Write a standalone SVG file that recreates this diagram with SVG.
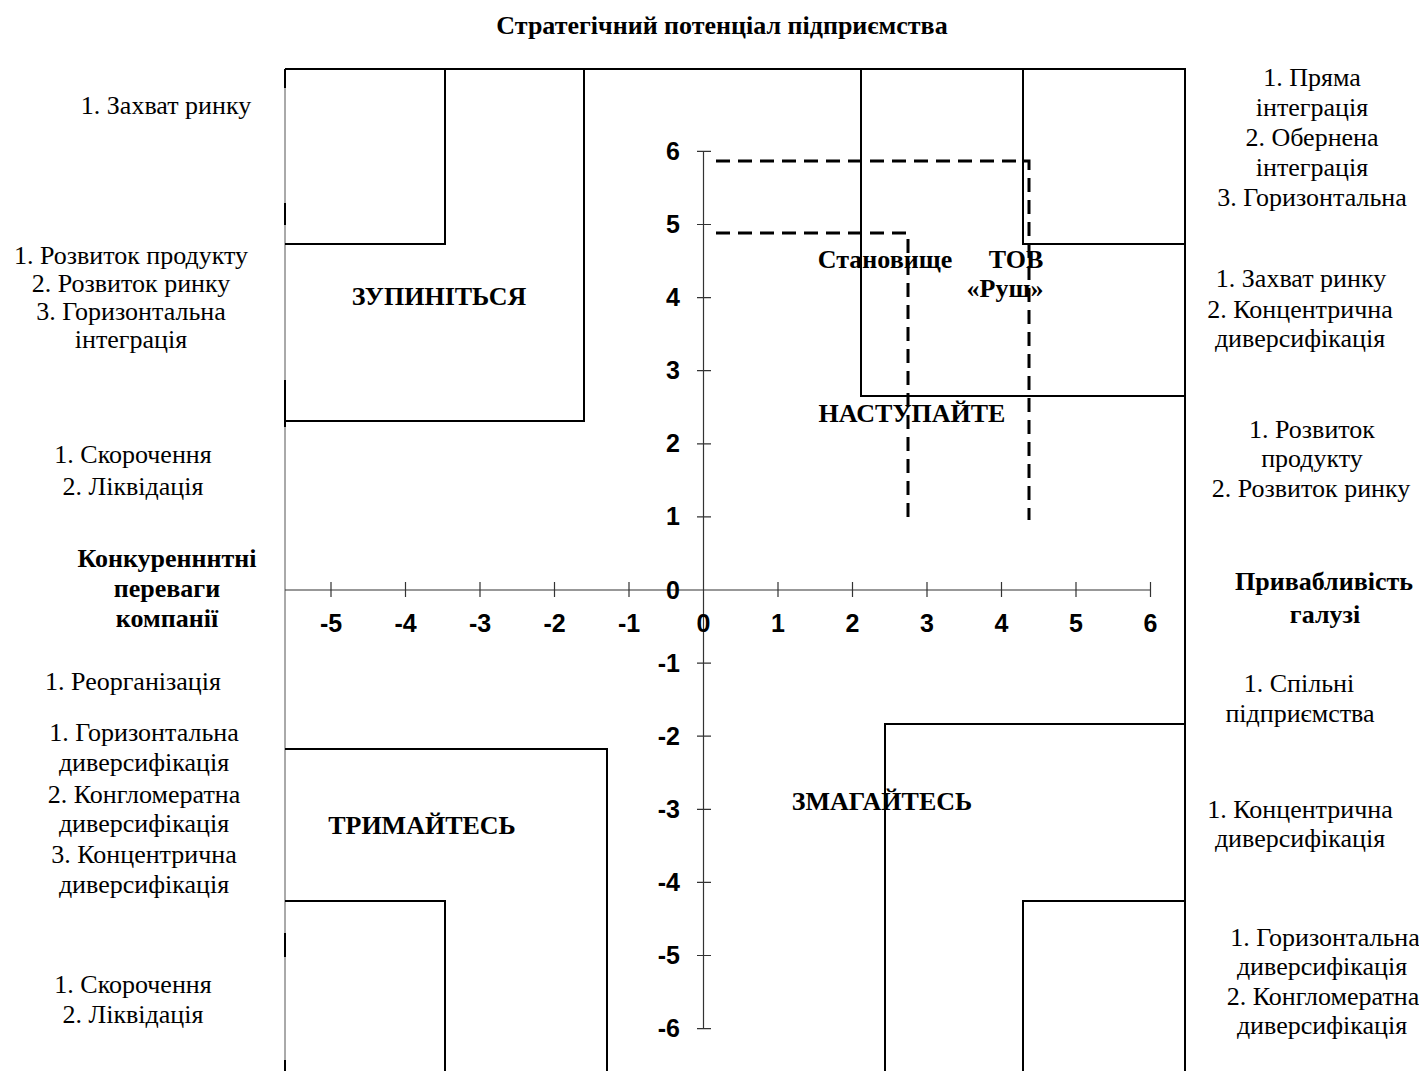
<svg xmlns="http://www.w3.org/2000/svg" width="1419" height="1071" viewBox="0 0 1419 1071">
<style>
.t{font-family:"Liberation Serif","Times New Roman",serif;font-size:26px;fill:#000;text-anchor:middle}
.b{font-weight:bold}
.ax{font-family:"Liberation Sans",Arial,sans-serif;font-size:25px;font-weight:bold;fill:#000}
.xl{text-anchor:middle}
.yl{text-anchor:end}
.ln{fill:none;stroke:#000;stroke-width:2}
.axis{fill:none;stroke:#333;stroke-width:1.2}
.dash{fill:none;stroke:#000;stroke-width:3;stroke-dasharray:14 8}
</style>
<rect width="1419" height="1071" fill="#fff"/>
<g id="title"><text class="t b" x="722" y="34">Стратегічний потенціал підприємства</text></g>
<g id="frame">
<path class="ln" d="M285,69 H1185 V1071"/>
<path d="M285,69 V1071" fill="none" stroke="#555" stroke-width="1"/>
<path d="M285,69 V88 M285,203 V225 M285,380 V427 M285,933 V957 M285,1060 V1071" fill="none" stroke="#000" stroke-width="2"/>
</g>
<g id="axes">
<path class="axis" d="M285,590 H1150.5 M703.5,151.4 V1028.6"/>
<path class="axis" d="M331,582 V597 M405.5,582 V597 M480,582 V597 M554.5,582 V597 M629,582 V597 M778,582 V597 M852.5,582 V597 M927,582 V597 M1001.5,582 V597 M1076,582 V597 M1150.5,582 V597"/>
<path class="axis" d="M697,151.4 H711 M697,224.5 H711 M697,297.6 H711 M697,370.7 H711 M697,443.8 H711 M697,516.9 H711 M697,663.1 H711 M697,736.2 H711 M697,809.3 H711 M697,882.4 H711 M697,955.5 H711 M697,1028.6 H711"/>
<g class="ax xl">
<text x="331" y="632">-5</text><text x="405.5" y="632">-4</text><text x="480" y="632">-3</text><text x="554.5" y="632">-2</text><text x="629" y="632">-1</text><text x="703.5" y="632">0</text><text x="778" y="632">1</text><text x="852.5" y="632">2</text><text x="927" y="632">3</text><text x="1001.5" y="632">4</text><text x="1076" y="632">5</text><text x="1150.5" y="632">6</text>
</g>
<g class="ax yl">
<text x="680" y="160">6</text><text x="680" y="233">5</text><text x="680" y="306">4</text><text x="680" y="379">3</text><text x="680" y="452">2</text><text x="680" y="525">1</text><text x="680" y="599">0</text><text x="680" y="672">-1</text><text x="680" y="745">-2</text><text x="680" y="818">-3</text><text x="680" y="891">-4</text><text x="680" y="964">-5</text><text x="680" y="1037">-6</text>
</g>
</g>
<g id="quadrant-stop">
<path class="ln" d="M285,244 H445 V69 M285,421 H584 V69"/>
<text class="t b" x="439" y="305">ЗУПИНІТЬСЯ</text>
</g>
<g id="quadrant-attack">
<path class="ln" d="M1185,244 H1023 V69 M1185,396 H861 V69"/>
<text class="t b" x="912" y="422">НАСТУПАЙТЕ</text>
</g>
<g id="quadrant-hold">
<path class="ln" d="M285,749 H607 V1071 M285,901 H445 V1071"/>
<text class="t b" x="422" y="834">ТРИМАЙТЕСЬ</text>
</g>
<g id="quadrant-compete">
<path class="ln" d="M1185,724 H885 V1071 M1185,901 H1023 V1071"/>
<text class="t b" x="882" y="810">ЗМАГАЙТЕСЬ</text>
</g>
<g id="company-position">
<text class="t b" x="885" y="268">Становище</text>
<text class="t b" x="1016" y="268">ТОВ</text>
<text class="t b" x="1005" y="297">«Руш»</text>
</g>
<g id="connectors">
<path class="dash" d="M716,161 H1029 V520"/>
<path class="dash" d="M716,233 H908 V520"/>
</g>
<g id="left-labels">
<text class="t" x="166" y="114">1. Захват ринку</text>
<text class="t" x="131" y="264">1. Розвиток продукту</text>
<text class="t" x="131" y="292">2. Розвиток ринку</text>
<text class="t" x="131" y="320">3. Горизонтальна</text>
<text class="t" x="131" y="348">інтеграція</text>
<text class="t" x="133" y="463">1. Скорочення</text>
<text class="t" x="133" y="495">2. Ліквідація</text>
<text class="t b" x="167" y="567">Конкуренннтні</text>
<text class="t b" x="167" y="597">переваги</text>
<text class="t b" x="167" y="627">компанії</text>
<text class="t" x="133" y="690">1. Реорганізація</text>
<text class="t" x="144" y="741">1. Горизонтальна</text>
<text class="t" x="144" y="771">диверсифікація</text>
<text class="t" x="144" y="803">2. Конгломератна</text>
<text class="t" x="144" y="832">диверсифікація</text>
<text class="t" x="144" y="863">3. Концентрична</text>
<text class="t" x="144" y="893">диверсифікація</text>
<text class="t" x="133" y="993">1. Скорочення</text>
<text class="t" x="133" y="1023">2. Ліквідація</text>
</g>
<g id="right-labels">
<text class="t" x="1312" y="86">1. Пряма</text>
<text class="t" x="1312" y="116">інтеграція</text>
<text class="t" x="1312" y="146">2. Обернена</text>
<text class="t" x="1312" y="176">інтеграція</text>
<text class="t" x="1312" y="206">3. Горизонтальна</text>
<text class="t" x="1301" y="287">1. Захват ринку</text>
<text class="t" x="1300" y="318">2. Концентрична</text>
<text class="t" x="1300" y="347">диверсифікація</text>
<text class="t" x="1312" y="438">1. Розвиток</text>
<text class="t" x="1312" y="467">продукту</text>
<text class="t" x="1311" y="497">2. Розвиток ринку</text>
<text class="t b" x="1324" y="590">Привабливість</text>
<text class="t b" x="1325" y="623">галузі</text>
<text class="t" x="1299" y="692">1. Спільні</text>
<text class="t" x="1300" y="722">підприємства</text>
<text class="t" x="1300" y="818">1. Концентрична</text>
<text class="t" x="1300" y="847">диверсифікація</text>
<text class="t" x="1325" y="946">1. Горизонтальна</text>
<text class="t" x="1322" y="975">диверсифікація</text>
<text class="t" x="1323" y="1005">2. Конгломератна</text>
<text class="t" x="1322" y="1034">диверсифікація</text>
</g>
</svg>
